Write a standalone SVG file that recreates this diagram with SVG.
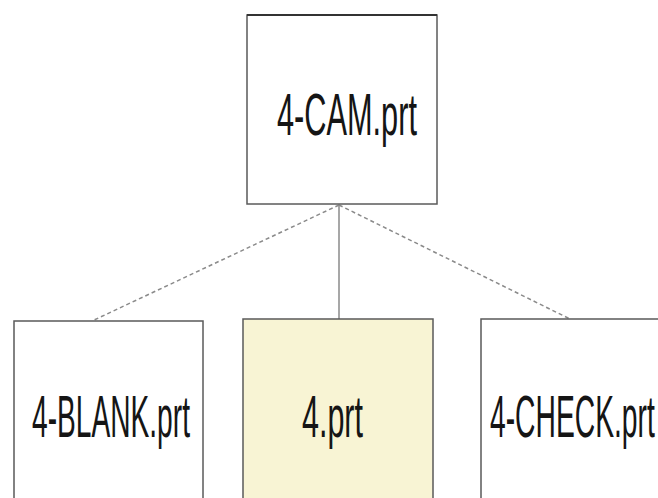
<svg xmlns="http://www.w3.org/2000/svg" width="658" height="498" viewBox="0 0 658 498">
<style>
.box{fill:#ffffff;stroke:#5a5a5a;stroke-width:1.5}
.hl{fill:#f8f4d4}
.lbl{font-family:"Liberation Sans",Arial,sans-serif;font-size:60px;fill:#151515}
.dash{stroke:#8a8a8a;stroke-width:1.5;stroke-dasharray:4 3;fill:none}
.solid{stroke:#8a8a8a;stroke-width:1.5;fill:none}
</style>
<rect width="658" height="498" fill="#ffffff"/>
<g id="connectors">
<line class="dash" x1="339" y1="205" x2="92" y2="321"/>
<line class="solid" x1="339" y1="205" x2="339" y2="319"/>
<line class="dash" x1="339" y1="205" x2="570" y2="319"/>
</g>
<g id="node-cam">
<rect class="box" x="247" y="15" width="190" height="189"/>
<line x1="247" y1="15" x2="437" y2="15" stroke="#333" stroke-width="2"/>
<text class="lbl" font-size="58" transform="translate(277,135) scale(0.512,1)">4-CAM.prt</text>
</g>
<g id="node-blank">
<rect class="box" x="14" y="321" width="189" height="190"/>
<text class="lbl" transform="translate(32,437) scale(0.469,1)">4-BLANK.prt</text>
</g>
<g id="node-4">
<rect class="box hl" x="243" y="319" width="190" height="190"/>
<text class="lbl" transform="translate(302,437) scale(0.508,1)">4.prt</text>
</g>
<g id="node-check">
<rect class="box" x="481" y="319" width="200" height="190"/>
<text class="lbl" transform="translate(490,437) scale(0.471,1)">4-CHECK.prt</text>
</g>
</svg>
